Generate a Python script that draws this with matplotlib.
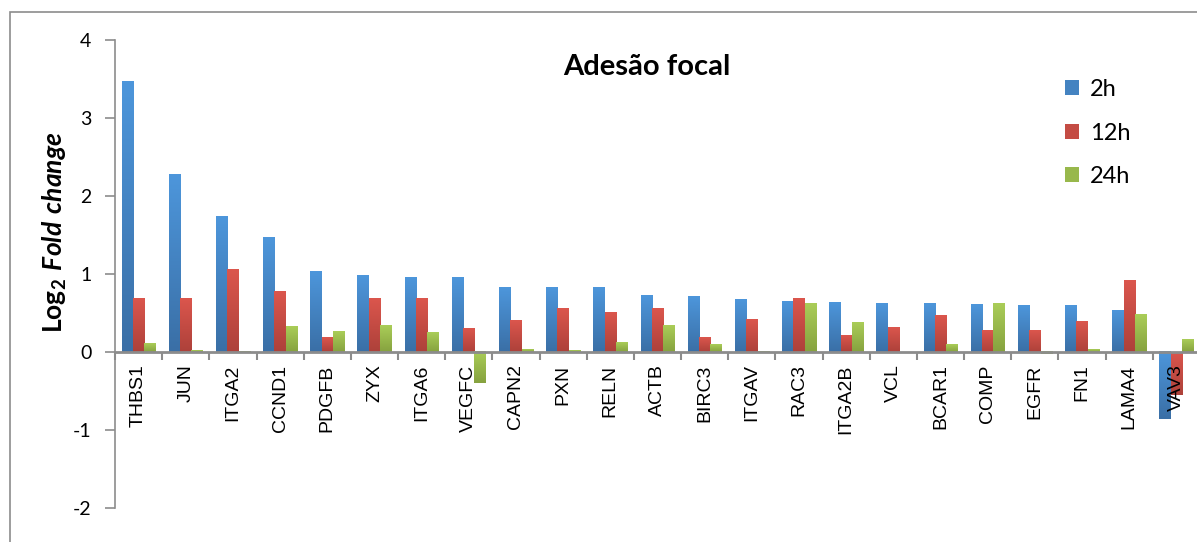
import matplotlib
matplotlib.use("Agg")
import matplotlib.pyplot as plt
import numpy as np
from matplotlib.colors import to_rgb
from matplotlib.patches import Rectangle, Patch

# Data (log2 fold change)
genes = ["THBS1", "JUN", "ITGA2", "CCND1", "PDGFB", "ZYX", "ITGA6", "VEGFC",
         "CAPN2", "PXN", "RELN", "ACTB", "BIRC3", "ITGAV", "RAC3", "ITGA2B",
         "VCL", "BCAR1", "COMP", "EGFR", "FN1", "LAMA4", "VAV3"]
h2 = [3.47, 2.27, 1.74, 1.47, 1.03, 0.98, 0.96, 0.95,
      0.83, 0.83, 0.82, 0.73, 0.71, 0.67, 0.65, 0.64,
      0.62, 0.62, 0.61, 0.60, 0.60, 0.53, -0.86]
h12 = [0.69, 0.69, 1.06, 0.78, 0.19, 0.69, 0.68, 0.30,
       0.40, 0.56, 0.51, 0.56, 0.19, 0.42, 0.69, 0.21,
       0.32, 0.47, 0.28, 0.28, 0.39, 0.92, -0.55]
h24 = [0.11, 0.02, 0.01, 0.33, 0.26, 0.34, 0.25, -0.40,
       0.03, 0.02, 0.12, 0.34, 0.10, 0.005, 0.62, 0.38,
       0.0, 0.10, 0.62, -0.03, 0.03, 0.48, 0.16]
series_labels = ["2h", "12h", "24h"]

# (top colour, bottom colour) of the gradient fill
grads = [("#4d96db", "#3a6fa6"), ("#db564d", "#ad413a"), ("#aacd58", "#86a23f")]

plt.rcParams["axes.unicode_minus"] = False

W, H = 1197, 542
fig = plt.figure(figsize=(W / 100, H / 100), dpi=100)
ax = fig.add_axes([115 / W, 1 - 508 / H, (1200 - 115) / W, (508 - 39.7) / H])

x = np.arange(len(genes))
bw = 0.24
for k, vals in enumerate([h2, h12, h24]):
    top, bot = grads[k]
    bars = ax.bar(x + (k - 1) * bw, vals, bw, color=top, linewidth=0, zorder=2)
    ramp = np.linspace(0, 1, 64)[:, None]
    img = (1 - ramp)[..., None] * np.array(to_rgb(bot)) + ramp[..., None] * np.array(to_rgb(top))
    for p in bars.patches:
        x0, y0 = p.get_x(), p.get_y()
        w, h = p.get_width(), p.get_height()
        if h == 0:
            continue
        lo, hi = min(y0, y0 + h), max(y0, y0 + h)
        ax.imshow(img, extent=(x0, x0 + w, lo, hi), origin="lower",
                  aspect="auto", interpolation="bilinear", zorder=3)

ax.set_xlim(-0.5, len(genes) - 0.5)
ax.set_ylim(-2, 4)

grey = "#8c8c8c"
for s in ["top", "right"]:
    ax.spines[s].set_visible(False)
ax.spines["bottom"].set_position(("data", 0))
ax.spines["bottom"].set_color(grey)
ax.spines["bottom"].set_linewidth(2)
ax.spines["bottom"].set_zorder(4)
ax.spines["left"].set_color(grey)
ax.spines["left"].set_linewidth(1.2)
ax.xaxis.set_zorder(5)

ax.set_yticks(range(-2, 5))
ax.tick_params(axis="y", length=7, width=1.2, color=grey, pad=10,
               labelsize=14, labelfontfamily="Lato")
ax.set_xticks(x)
ax.set_xticklabels(genes, rotation=90, fontsize=14, fontfamily="Liberation Sans")
ax.tick_params(axis="x", which="major", length=0, pad=9)
ax.set_xticks(np.arange(-0.5, len(genes), 1), minor=True)
ax.tick_params(axis="x", which="minor", length=6, width=1.5, color=grey)

plt.rcParams["mathtext.fontset"] = "custom"
plt.rcParams["mathtext.bf"] = "Lato:bold"
plt.rcParams["mathtext.bfit"] = "Lato:italic:bold"
fig.text(55 / W, 1 - 232 / H, r"$\mathbf{Log_2}\ \mathbfit{Fold\ change}$",
         rotation=90, ha="center", va="center", fontsize=19)

fig.text(647 / W, 1 - 67 / H, "Adesão focal", ha="center", va="center",
         fontsize=21, fontweight="bold", fontfamily="Lato")

handles = [Patch(facecolor=((np.array(to_rgb(t)) + np.array(to_rgb(b))) / 2))
           for t, b in grads]
fig.legend(handles, series_labels, loc="upper left",
           bbox_to_anchor=(1044 / W, 1 - 58 / H), frameon=False,
           prop={"family": "Lato", "size": 17}, handlelength=0.6,
           handleheight=0.6, handletextpad=0.45, labelspacing=0.95)

fig.add_artist(Rectangle((10 / W, -0.1), 1.2, 1.1 - 12 / H,
                         transform=fig.transFigure, fill=False,
                         edgecolor=grey, linewidth=1.2))

fig.savefig("out.png", dpi=100)
